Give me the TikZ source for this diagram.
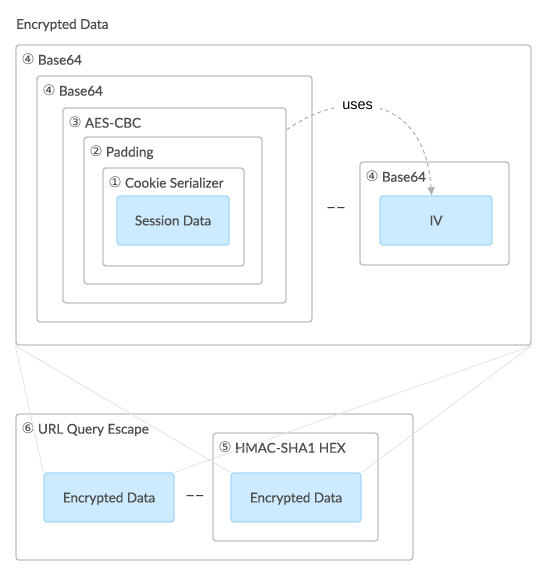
\documentclass[tikz,border=0pt]{standalone}
\usepackage{fontspec}
\setmainfont{Lato}[FakeBold=0.45]
\newfontfamily\circfont{DejaVu Sans}
\newfontfamily\plainfont{Liberation Sans}
\usetikzlibrary{arrows.meta}
\definecolor{layerline}{HTML}{BDBFC2}
\definecolor{payloadline}{HTML}{A5D8FA}
\definecolor{payloadfill}{HTML}{CDEBFE}
\definecolor{labeltext}{HTML}{4D4D4D}
\definecolor{linkline}{HTML}{E2E2E2}
\definecolor{usesline}{HTML}{ABAFB4}
\newcommand{\circnum}[1]{{\circfont\fontsize{14.5}{15}\selectfont#1}}
\tikzset{layer/.style={draw=layerline, line width=1.4pt, rounded corners=3pt, inner sep=0pt}}
\tikzset{payload/.style={layer, draw=payloadline, fill=payloadfill, text=labeltext,
    font=\fontsize{13.5}{16}\selectfont, text height=9.7pt, text depth=0pt}}
\tikzset{title/.style={anchor=west, inner sep=0pt, text=labeltext,
    font=\fontsize{13.5}{16}\selectfont, text height=9.7pt, text depth=0pt}}
\tikzset{layertitle/.style={title, xshift=6pt, yshift=-15.5pt}}
\tikzset{link/.style={draw=linkline, line width=0.8pt}}
\tikzset{uses/.style={draw=usesline, line width=1pt, dash pattern=on 4pt off 3pt,
    -{Triangle[length=8pt,width=7pt]}}}
\tikzset{gapmark/.style={inner sep=0pt, font=\plainfont\fontsize{13}{15}\selectfont}}

\begin{document}
\begin{tikzpicture}[x=1pt, y=-1pt]
   \useasboundingbox (0,0) rectangle (543,572);
   \node[title] (heading) at (16,24) {Encrypted Data};
   % upper layers, outside to inside
   \node[layer, minimum width=515pt, minimum height=300pt] (outer) at (273.5,195) {};
   \node[layer, minimum width=275pt, minimum height=246pt] (inner) at (174.5,199) {};
   \node[layer, minimum width=223pt, minimum height=195pt] (aes) at (174.5,205.5) {};
   \node[layer, minimum width=178pt, minimum height=147pt] (pad) at (173,210.5) {};
   \node[layer, minimum width=141pt, minimum height=98pt] (cookie) at (173.5,217) {};
   \node[payload, minimum width=112pt, minimum height=49pt] (session) at (173,220.5) {Session Data};
   \node[layer, minimum width=149pt, minimum height=103pt] (ivlayer) at (434.5,213.5) {};
   \node[payload, minimum width=112pt, minimum height=49pt] (iv) at (436,220.5) {IV};
   \node[layertitle] (outertitle) at (outer.north west) {\circnum{④} Base64};
   \node[layertitle] (innertitle) at (inner.north west) {\circnum{④} Base64};
   \node[layertitle] (aestitle) at (aes.north west) {\circnum{③} AES-CBC};
   \node[layertitle] (padtitle) at (pad.north west) {\circnum{②} Padding};
   \node[layertitle] (cookietitle) at (cookie.north west) {\circnum{①} Cookie Serializer};
   \node[layertitle] (ivtitle) at (ivlayer.north west) {\circnum{④} Base64};
   \node[gapmark] (gaptop) at (336,210) {–\hspace{2.5pt}–};
   % lower layers
   \node[layer, minimum width=397pt, minimum height=146pt] (url) at (214.5,487) {};
   \node[layer, minimum width=165pt, minimum height=108pt] (hmac) at (295.5,487) {};
   \node[payload, minimum width=130pt, minimum height=49pt] (encl) at (109,497.5) {Encrypted Data};
   \node[payload, minimum width=130pt, minimum height=49pt] (encr) at (296,497.5) {Encrypted Data};
   \node[layertitle] (urltitle) at (url.north west) {\circnum{⑥} URL Query Escape};
   \node[layertitle] (hmactitle) at (hmac.north west) {\circnum{⑤} HMAC-SHA1 HEX};
   \node[gapmark] (gapbottom) at (195,498) {–\hspace{2.5pt}–};
   % links
   \draw[link] (outer.south west) -- (encl.north west);
   \draw[link] (outer.south west) -- (encr.north west);
   \draw[link] (outer.south east) -- (encl.north east);
   \draw[link] (outer.south east) -- (encr.north east);
   \draw[uses] (aes.34) .. controls +(59,-42) and +(-6.7,-101) ..
      node[pos=0.38, fill=white, inner xsep=7pt, inner ysep=1pt,
           font=\plainfont\fontsize{14.5}{16}\selectfont] (useslabel) {uses} (iv.100);
\end{tikzpicture}
\end{document}
